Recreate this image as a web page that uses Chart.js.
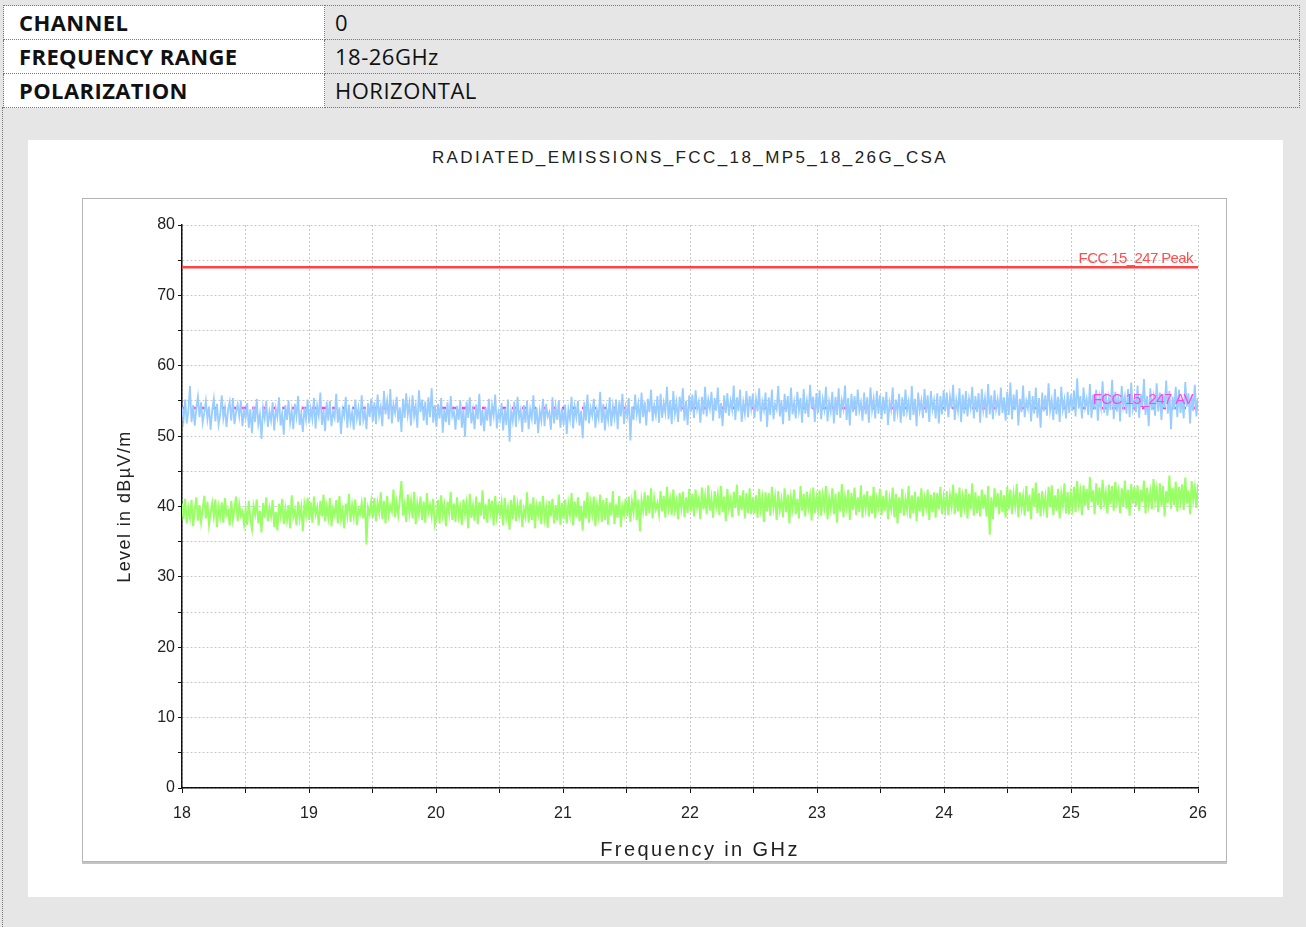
<!DOCTYPE html>
<html>
<head>
<meta charset="utf-8">
<script src="https://cdn.jsdelivr.net/npm/chart.js@4.4.1/dist/chart.umd.min.js"></script>
<style>
  body { margin: 0; background: #e6e6e6; width: 1306px; height: 927px; position: relative; overflow: hidden; font-family: "Liberation Sans", Arial, sans-serif; }
  .info { position: absolute; left: 3px; top: 5px; border-collapse: collapse; font-family: "Open Sans", sans-serif; font-size: 22px; }
  .info td { border: 1px dotted #777; height: 33px; padding: 0 0 0 15px; line-height: 33px; }
  .info td.k { width: 305px; background: #fff; font-weight: 700; color: #111; letter-spacing: 0.4px; }
  .info td.v { width: 964px; padding-left: 10px; background: #e6e6e6; color: #111; letter-spacing: 0.5px; }
  .edge { position: absolute; left: 2px; top: 107px; height: 820px; border-left: 1px dotted #777; }
  .panel { position: absolute; left: 28px; top: 140px; width: 1255px; height: 757px; background: #fff; }
  .title { position: absolute; left: 390px; width: 600px; top: 148px; text-align: center; font-size: 17px; letter-spacing: 2.4px; color: #222; }
  .box { position: absolute; left: 82px; top: 198px; width: 1143px; height: 662px; border: 1px solid #b4b4b4; box-shadow: 0 2px 0 #c4c4c4; background: #fff; }
  canvas { position: absolute; left: 0; top: 0; }
</style>
</head>
<body>
<table class="info">
  <tr><td class="k">CHANNEL</td><td class="v">0</td></tr>
  <tr><td class="k">FREQUENCY RANGE</td><td class="v">18-26GHz</td></tr>
  <tr><td class="k">POLARIZATION</td><td class="v">HORIZONTAL</td></tr>
</table>
<div class="edge"></div>
<div class="panel"></div>
<div class="title">RADIATED_EMISSIONS_FCC_18_MP5_18_26G_CSA</div>
<div class="box"><canvas id="chart" width="1143" height="662"></canvas></div>

<script>
// sweep settings (GHz)
const F_START = 18;
const F_STOP = 26;

// limit lines (dBµV/m)
const LIMIT_PEAK = 74;
const LIMIT_AV = 54;
const LIMIT_PEAK_LABEL = "FCC 15_247 Peak";
const LIMIT_AV_LABEL = "FCC 15_247 AV";

// peak trace (one row per 0.5 GHz)
const peakValues = [
  54.1, 52.3, 55.2, 51.8, 53.6, 57.1, 52.0, 54.4, 51.5, 53.9, 55.6, 52.7, 54.8, 51.9, 53.3, 55.0, 52.4, 54.2, 50.9, 53.7, 55.3, 52.1, 54.6, 51.6, 53.0, 55.8, 52.5, 54.0, 51.3, 53.8, 54.9, 52.2, 55.4, 51.7, 53.4, 54.5, 52.8, 55.1, 51.4, 53.6,
  52.6, 54.7, 51.2, 53.8, 50.4, 54.2, 52.0, 55.3, 51.7, 53.1, 49.6, 54.0, 52.5, 55.0, 51.3, 53.5, 52.2, 54.8, 50.8, 53.9, 52.7, 55.5, 51.5, 53.2, 50.2, 54.4, 52.3, 55.1, 51.9, 53.6, 51.0, 54.6, 52.8, 55.7, 51.6, 53.3, 50.6, 54.1, 52.4, 55.2,
  51.8, 53.9, 52.4, 55.4, 51.1, 54.3, 52.9, 56.2, 51.6, 53.7, 50.7, 54.9, 52.2, 55.0, 51.4, 53.5, 52.6, 56.0, 51.9, 54.1, 50.3, 53.8, 52.8, 55.6, 51.2, 54.5, 52.0, 53.4, 50.9, 55.2, 52.5, 54.0, 51.5, 55.8, 52.3, 53.6, 51.0, 54.7, 52.7, 55.3,
  52.1, 54.8, 51.7, 55.9, 52.9, 54.2, 51.4, 56.4, 53.1, 55.0, 52.4, 56.7, 51.8, 54.5, 53.3, 55.6, 52.0, 54.1, 50.6, 55.3, 52.6, 56.1, 53.0, 54.7, 51.5, 55.8, 52.8, 54.3, 51.2, 56.5, 53.4, 55.2, 52.2, 54.9, 51.6, 55.5, 52.7, 56.8, 51.9, 54.4,
  51.3, 54.6, 52.5, 55.4, 50.5, 53.9, 52.0, 54.8, 51.6, 55.7, 52.8, 53.5, 50.9, 54.3, 52.3, 55.1, 51.2, 53.8, 49.9, 54.9, 52.6, 55.5, 51.8, 53.6, 51.0, 54.5, 52.4, 56.0, 51.5, 53.7, 50.7, 54.1, 52.2, 55.3, 51.4, 54.4, 52.9, 55.9, 51.1, 53.4,
  52.4, 54.7, 50.8, 53.9, 51.6, 55.2, 49.2, 53.5, 52.1, 54.9, 51.3, 55.6, 52.6, 53.7, 50.6, 54.4, 51.9, 55.0, 51.0, 53.8, 52.5, 55.8, 51.7, 54.1, 50.4, 53.6, 52.2, 55.3, 51.4, 54.6, 52.8, 53.4, 50.9, 55.5, 51.8, 54.2, 52.3, 55.1, 51.2, 53.9,
  51.6, 54.5, 50.3, 53.8, 52.4, 55.6, 51.1, 54.2, 52.7, 55.0, 51.5, 53.6, 49.7, 54.8, 52.2, 55.9, 51.8, 54.0, 52.9, 55.3, 51.2, 53.7, 52.5, 56.3, 51.9, 54.6, 50.8, 53.9, 52.3, 55.5, 51.4, 54.3, 52.6, 55.2, 51.0, 54.9, 52.8, 56.0, 51.7, 54.1,
  52.9, 55.4, 49.4, 54.2, 52.3, 55.9, 53.1, 54.6, 51.8, 56.2, 52.7, 54.9, 51.5, 55.3, 53.4, 56.6, 52.1, 54.4, 53.0, 55.7, 51.9, 56.0, 52.6, 54.7, 53.3, 57.0, 52.4, 55.1, 51.7, 56.4, 53.2, 54.8, 52.0, 55.6, 53.5, 56.8, 52.2, 55.0, 51.6, 55.8,
  53.4, 55.9, 52.6, 56.5, 53.8, 54.9, 51.9, 55.6, 53.1, 57.0, 52.8, 55.2, 53.9, 56.3, 52.2, 55.4, 53.6, 56.9, 52.5, 54.7, 51.4, 55.8, 53.3, 56.1, 52.9, 55.0, 53.7, 57.2, 52.3, 55.5, 53.5, 56.6, 52.0, 54.8, 53.2, 56.4, 52.7, 55.7, 53.9, 56.0,
  52.6, 55.3, 53.5, 56.8, 52.1, 54.9, 53.7, 56.2, 51.3, 55.5, 53.0, 56.6, 52.4, 54.6, 53.8, 57.1, 52.8, 55.1, 51.7, 56.0, 53.4, 55.7, 52.2, 56.9, 53.1, 54.8, 52.5, 56.3, 53.6, 55.4, 51.9, 56.7, 53.2, 55.0, 52.7, 57.3, 53.9, 55.6, 52.0, 56.1,
  53.3, 56.5, 52.4, 55.2, 53.8, 57.0, 52.1, 54.9, 53.5, 56.3, 51.8, 55.6, 53.0, 56.8, 52.6, 55.1, 53.9, 57.2, 52.3, 55.4, 51.5, 56.0, 53.4, 55.7, 52.9, 56.6, 53.6, 54.8, 52.2, 56.2, 53.1, 55.5, 51.9, 56.9, 53.7, 55.3, 52.5, 56.4, 53.2, 55.8,
  52.4, 55.6, 53.2, 56.3, 51.6, 54.8, 53.7, 56.9, 52.1, 55.2, 53.4, 56.0, 51.9, 55.5, 52.8, 56.6, 53.5, 54.9, 52.3, 57.1, 53.0, 55.3, 51.4, 56.2, 53.6, 55.0, 52.6, 56.7, 53.3, 55.8, 52.0, 56.4, 53.8, 55.1, 52.5, 56.1, 51.8, 55.7, 53.1, 56.5,
  53.5, 56.2, 52.7, 55.6, 53.9, 57.3, 52.3, 55.1, 53.6, 56.8, 52.0, 55.9, 53.2, 56.4, 52.8, 55.3, 54.0, 57.0, 52.5, 55.7, 53.4, 56.1, 51.9, 56.7, 53.7, 55.4, 52.6, 57.4, 53.1, 55.8, 52.4, 56.5, 53.8, 55.2, 52.9, 56.9, 53.3, 55.5, 52.2, 56.3,
  53.0, 57.6, 52.4, 55.9, 53.7, 56.6, 51.5, 55.3, 53.4, 57.2, 52.7, 55.0, 53.9, 56.4, 52.1, 55.7, 53.2, 56.9, 52.6, 55.4, 51.2, 56.2, 53.5, 55.8, 52.9, 57.5, 53.6, 55.1, 52.3, 56.7, 53.1, 55.6, 52.0, 57.0, 53.8, 55.2, 52.5, 56.3, 53.3, 55.9,
  53.6, 56.5, 52.8, 58.2, 53.9, 55.7, 52.5, 56.9, 54.1, 55.3, 53.0, 57.4, 52.6, 55.9, 53.8, 56.6, 52.2, 55.5, 54.0, 57.8, 53.3, 56.1, 52.9, 55.4, 53.7, 58.0, 52.4, 56.3, 53.5, 55.8, 52.1, 57.1, 54.2, 55.6, 53.2, 56.7, 52.7, 57.6, 53.9, 55.2,
  53.4, 57.2, 52.6, 56.0, 54.1, 58.1, 53.0, 55.7, 51.4, 56.8, 53.7, 55.5, 52.9, 57.5, 53.5, 56.2, 52.3, 55.9, 54.0, 57.9, 53.2, 56.4, 51.0, 55.6, 53.8, 57.0, 52.7, 56.6, 53.3, 55.3, 52.5, 57.7, 54.2, 56.1, 51.8, 55.8, 53.6, 57.3, 52.8, 55.4
];

// average trace (one row per 0.5 GHz)
const avgValues = [
  40.4, 38.2, 41.1, 37.6, 39.8, 38.4, 40.9, 37.2, 39.5, 41.3, 38.0, 40.2, 37.8, 39.6, 41.5, 38.3, 40.7, 37.4, 39.1, 40.5, 38.6, 41.0, 37.1, 39.9, 38.5, 40.6, 37.7, 41.2, 38.8, 39.4, 37.3, 40.8, 38.1, 39.7, 41.4, 37.9, 40.3, 38.7, 39.3, 37.5,
  39.6, 37.4, 40.8, 38.2, 36.8, 40.1, 38.9, 41.0, 37.6, 39.4, 36.3, 40.5, 38.4, 41.3, 37.9, 39.8, 38.6, 40.9, 37.1, 39.2, 36.6, 40.4, 38.7, 41.1, 37.5, 39.7, 38.0, 40.2, 36.9, 41.6, 38.5, 39.5, 37.3, 40.7, 38.3, 39.9, 36.5, 40.3, 38.8, 41.2,
  38.1, 40.6, 37.7, 41.4, 38.9, 39.9, 37.3, 40.8, 38.6, 41.7, 37.9, 40.0, 38.4, 41.2, 37.2, 39.7, 38.8, 40.9, 37.6, 41.5, 38.2, 39.5, 36.9, 40.4, 38.7, 41.8, 37.8, 40.2, 38.5, 41.0, 37.4, 39.6, 38.9, 40.5, 38.3, 41.3, 34.6, 39.8, 38.9, 40.7,
  38.4, 41.2, 37.9, 40.5, 39.1, 42.0, 38.2, 40.8, 37.6, 41.5, 38.8, 40.1, 39.3, 42.4, 38.5, 40.6, 38.8, 41.0, 43.6, 38.7, 40.3, 37.8, 41.7, 39.0, 40.9, 38.3, 42.1, 37.5, 40.4, 38.9, 41.4, 38.1, 40.7, 37.7, 41.9, 39.2, 40.2, 38.6, 41.1, 37.4,
  38.3, 40.9, 37.6, 41.6, 38.8, 40.2, 37.2, 40.7, 39.0, 42.1, 38.1, 40.4, 37.8, 41.3, 38.6, 39.9, 37.4, 41.0, 38.9, 40.5, 36.9, 41.8, 38.4, 40.1, 38.0, 41.4, 37.5, 40.6, 38.7, 42.3, 38.2, 40.3, 37.7, 41.1, 39.1, 40.8, 37.3, 41.5, 38.5, 40.0,
  38.9, 40.6, 37.3, 41.2, 38.4, 39.8, 36.7, 40.9, 38.2, 41.6, 37.9, 40.3, 38.7, 41.0, 37.1, 39.6, 38.5, 42.0, 37.7, 40.4, 38.1, 41.3, 36.9, 40.1, 38.8, 40.7, 37.5, 41.5, 38.3, 39.9, 37.0, 40.8, 38.6, 41.1, 37.6, 40.2, 38.0, 41.7, 37.4, 40.5,
  38.2, 41.0, 37.6, 40.4, 38.8, 41.9, 37.3, 40.7, 38.5, 41.3, 37.9, 40.1, 36.6, 40.8, 38.3, 42.0, 37.7, 40.5, 38.9, 41.4, 37.2, 40.2, 38.6, 41.7, 37.8, 40.9, 38.1, 41.2, 37.4, 40.6, 38.7, 42.2, 37.5, 40.3, 38.4, 41.5, 37.1, 40.0, 38.8, 41.1,
  38.6, 41.4, 37.8, 40.7, 39.2, 42.3, 38.1, 41.0, 36.5, 40.9, 39.4, 42.0, 38.7, 41.6, 39.0, 42.6, 38.3, 41.2, 39.6, 40.5, 38.9, 42.2, 39.3, 41.5, 38.4, 42.8, 39.7, 41.1, 38.8, 42.4, 39.5, 40.8, 38.2, 41.9, 39.8, 42.1, 38.5, 41.3, 39.1, 42.5,
  39.3, 41.8, 38.6, 42.4, 39.9, 41.1, 38.2, 42.7, 39.6, 41.5, 38.9, 43.0, 39.4, 41.2, 38.4, 42.2, 40.0, 41.7, 38.8, 42.9, 39.2, 41.4, 37.9, 42.5, 39.7, 41.0, 38.5, 42.1, 39.8, 43.1, 38.7, 41.6, 39.5, 42.3, 38.3, 41.9, 39.1, 42.6, 38.9, 41.3,
  39.0, 41.6, 38.4, 42.5, 39.6, 41.2, 37.8, 42.0, 39.3, 41.9, 38.7, 42.8, 39.8, 41.4, 38.1, 42.2, 39.5, 41.0, 38.5, 42.6, 39.2, 41.7, 37.6, 41.3, 39.7, 42.4, 38.9, 41.1, 38.3, 42.9, 39.4, 41.8, 38.6, 42.1, 39.9, 41.5, 38.0, 42.7, 39.1, 41.2,
  39.4, 42.3, 38.7, 41.6, 39.9, 42.9, 38.2, 41.2, 39.6, 42.6, 38.9, 41.8, 37.7, 42.1, 39.3, 43.2, 38.5, 41.4, 39.8, 42.4, 38.1, 41.9, 39.5, 42.7, 38.8, 41.3, 39.2, 43.0, 38.4, 41.7, 39.7, 42.2, 38.6, 41.5, 39.0, 42.8, 38.3, 41.1, 39.9, 42.5,
  38.8, 41.5, 39.4, 42.3, 38.2, 41.1, 39.7, 42.7, 38.5, 41.8, 37.6, 41.3, 39.1, 42.5, 38.7, 41.0, 39.5, 42.9, 38.3, 41.6, 39.0, 42.1, 37.9, 41.4, 39.3, 42.6, 38.6, 41.2, 39.8, 42.4, 38.1, 41.7, 39.2, 42.0, 38.4, 41.9, 39.6, 42.8, 38.9, 41.3,
  39.5, 42.2, 38.8, 41.6, 40.0, 43.1, 38.9, 41.9, 39.3, 42.7, 38.5, 41.4, 39.8, 42.5, 38.3, 41.8, 39.6, 43.3, 38.7, 42.0, 39.1, 41.5, 38.6, 42.4, 39.7, 41.7, 38.6, 42.9, 36.0, 41.3, 38.2, 42.6, 39.9, 41.9, 38.9, 42.3, 39.2, 41.6, 38.4, 42.8,
  39.6, 42.4, 38.9, 41.8, 40.1, 43.2, 38.5, 42.0, 39.8, 41.5, 38.7, 42.9, 39.3, 41.7, 38.2, 42.6, 40.0, 43.4, 39.1, 41.9, 38.6, 42.2, 39.7, 41.4, 38.4, 42.8, 39.9, 43.0, 38.8, 41.6, 39.4, 42.5, 38.3, 41.8, 40.2, 43.3, 39.0, 42.1, 38.9, 41.7,
  39.9, 42.8, 39.2, 43.6, 40.4, 42.1, 38.8, 43.0, 40.1, 42.5, 39.5, 44.2, 40.6, 42.3, 38.9, 43.3, 40.2, 42.7, 39.6, 43.8, 40.5, 42.0, 39.0, 43.1, 40.3, 42.9, 39.4, 43.5, 40.7, 42.2, 39.1, 42.6, 40.0, 43.7, 39.7, 42.4, 38.7, 43.2, 40.4, 42.8,
  40.1, 43.0, 39.4, 42.4, 40.6, 43.7, 39.0, 42.7, 40.3, 42.1, 39.6, 43.9, 40.8, 42.5, 39.2, 43.3, 40.0, 42.9, 38.6, 42.2, 40.5, 44.4, 39.7, 42.6, 40.2, 43.5, 39.3, 42.8, 40.7, 43.1, 39.5, 44.1, 40.4, 42.3, 38.9, 43.6, 40.9, 42.7, 39.8, 43.2
];

// sweep points are evenly spaced from start to stop
const sweepXY = (vals) => vals.map((v, i) => ({ x: F_START + i * (F_STOP - F_START) / (vals.length - 1), y: v }));
const limitXY = (v) => [{ x: F_START, y: v }, { x: F_STOP, y: v }];

// axis titles + limit labels, drawn with letter spacing
const extraText = {
  id: 'extraText',
  afterDatasetsDraw(chart) {
    const { ctx, scales: { x, y } } = chart;
    ctx.save();
    ctx.textAlign = 'right';
    ctx.textBaseline = 'middle';
    ctx.font = '15px "Liberation Sans", Arial';
    ctx.letterSpacing = '-0.6px';
    ctx.fillStyle = '#ff4d4d';
    ctx.fillText(LIMIT_PEAK_LABEL, x.getPixelForValue(F_STOP) - 5, y.getPixelForValue(LIMIT_PEAK) - 8);
    ctx.fillStyle = '#ff44ee';
    ctx.fillText(LIMIT_AV_LABEL, x.getPixelForValue(F_STOP) - 5, y.getPixelForValue(LIMIT_AV) - 8);

    ctx.textAlign = 'center';
    ctx.fillStyle = '#222';
    ctx.font = '20px "Liberation Sans", Arial';
    ctx.letterSpacing = '2.4px';
    ctx.fillText('Frequency in GHz', (x.left + x.right) / 2 + 10, 651);
    ctx.translate(42, (y.top + y.bottom) / 2);
    ctx.rotate(-Math.PI / 2);
    ctx.font = '18px "Liberation Sans", Arial';
    ctx.letterSpacing = '1.4px';
    ctx.fillText('Level in dBµV/m', 0, 0);
    ctx.restore();
  }
};

// dataset 0 is drawn on top; the AV limit sits under the peak trace
new Chart(document.getElementById('chart'), {
  type: 'line',
  data: {
    datasets: [
      { data: limitXY(LIMIT_PEAK), borderColor: '#ff4444', borderWidth: 2.5 },
      { data: sweepXY(peakValues), borderColor: '#99ccff', borderWidth: 1.8 },
      { data: limitXY(LIMIT_AV), borderColor: '#ff33ff', borderWidth: 2.5, borderDash: [4, 6] },
      { data: sweepXY(avgValues), borderColor: '#99ff66', borderWidth: 2 }
    ]
  },
  options: {
    responsive: false,
    animation: false,
    events: [],
    layout: { padding: { left: 0, right: 28, top: 26, bottom: 0 } },
    elements: { point: { radius: 0 }, line: { tension: 0 } },
    plugins: { legend: { display: false }, tooltip: { enabled: false } },
    scales: {
      x: {
        type: 'linear',
        min: F_START,
        max: F_STOP,
        afterFit: (s) => { s.height = 73; },
        ticks: {
          stepSize: 0.5,
          padding: 11,
          color: '#222',
          font: { size: 16, family: '"Liberation Sans", Arial' },
          callback: (v) => Number.isInteger(v) ? v : ''
        },
        grid: { color: '#c8c8c8', tickColor: '#111', tickLength: 5, tickBorderDash: [] },
        border: { color: '#111', width: 1.5, dash: [2, 2] }
      },
      y: {
        min: 0,
        max: 80,
        afterFit: (s) => { s.width = 99; },
        ticks: {
          stepSize: 5,
          padding: 3,
          color: '#222',
          font: { size: 16, family: '"Liberation Sans", Arial' },
          callback: (v) => v % 10 === 0 ? v : ''
        },
        grid: { color: '#c8c8c8', tickColor: '#111', tickLength: 4, tickBorderDash: [] },
        border: { color: '#111', width: 1.5, dash: [2, 2] }
      }
    }
  },
  plugins: [extraText]
});
</script>
</body>
</html>
